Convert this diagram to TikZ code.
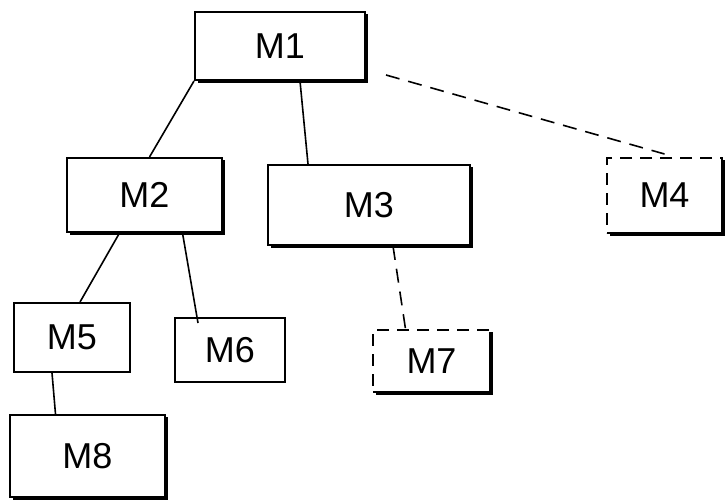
\documentclass[tikz,border=0pt]{standalone}
\usepackage{fontspec}
\setmainfont{Liberation Sans}
\begin{document}
\begin{tikzpicture}[x=1pt,y=-1pt,
  box/.style={draw, rectangle, line width=2pt, inner sep=0pt,
    font=\fontsize{36}{40}\selectfont},
  dbox/.style={box, dash pattern=on 12pt off 8pt},
  link/.style={line width=1.6pt},
  dlink/.style={link, dash pattern=on 14pt off 9pt},
  heavy/.style={line width=4.5pt}]
\useasboundingbox (0,0) rectangle (728,501);
\fill[white] (0,0) rectangle (728,501);

% modules
\node[box, minimum width=170pt, minimum height=68pt] (m1) at (280,46) {M1};
\node[box, minimum width=155pt, minimum height=74pt] (m2) at (144.5,195) {M2};
\node[box, minimum width=202pt, minimum height=80pt] (m3) at (369,205) {M3};
\node[dbox, minimum width=115pt, minimum height=75pt] (m4) at (664.5,195.5) {M4};
\node[box, minimum width=116pt, minimum height=69pt] (m5) at (72,337.5) {M5};
\node[box, minimum width=110pt, minimum height=64pt] (m6) at (230,350) {M6};
\node[dbox, minimum width=117pt, minimum height=62pt] (m7) at (431.5,361) {M7};
\node[box, minimum width=155pt, minimum height=82pt] (m8) at (87.5,456) {M8};

% heavy right and bottom edges
\foreach \n in {m1,m2,m3,m4,m7,m8}
  \draw[heavy] ([yshift=-3pt]\n.north east) -- (\n.south east) -- ([xshift=4pt]\n.south west);

% connectors
\draw[link] (m1.south west) -- ([xshift=5pt]m2.north);
\draw[link] ([xshift=20pt]m1.south) -- ([xshift=-61pt]m3.north);
\draw[dlink] ([xshift=20pt,yshift=-29pt]m1.east) -- ([yshift=3pt]m4.north);
\draw[link] ([xshift=-25pt]m2.south) -- ([xshift=8pt]m5.north);
\draw[link] ([xshift=38pt]m2.south) -- ([xshift=-32pt,yshift=-6pt]m6.north);
\draw[dlink] ([xshift=24pt]m3.south) -- ([xshift=-26pt]m7.north);
\draw[link] ([xshift=-20pt]m5.south) -- ([xshift=-32pt]m8.north);
\end{tikzpicture}
\end{document}
